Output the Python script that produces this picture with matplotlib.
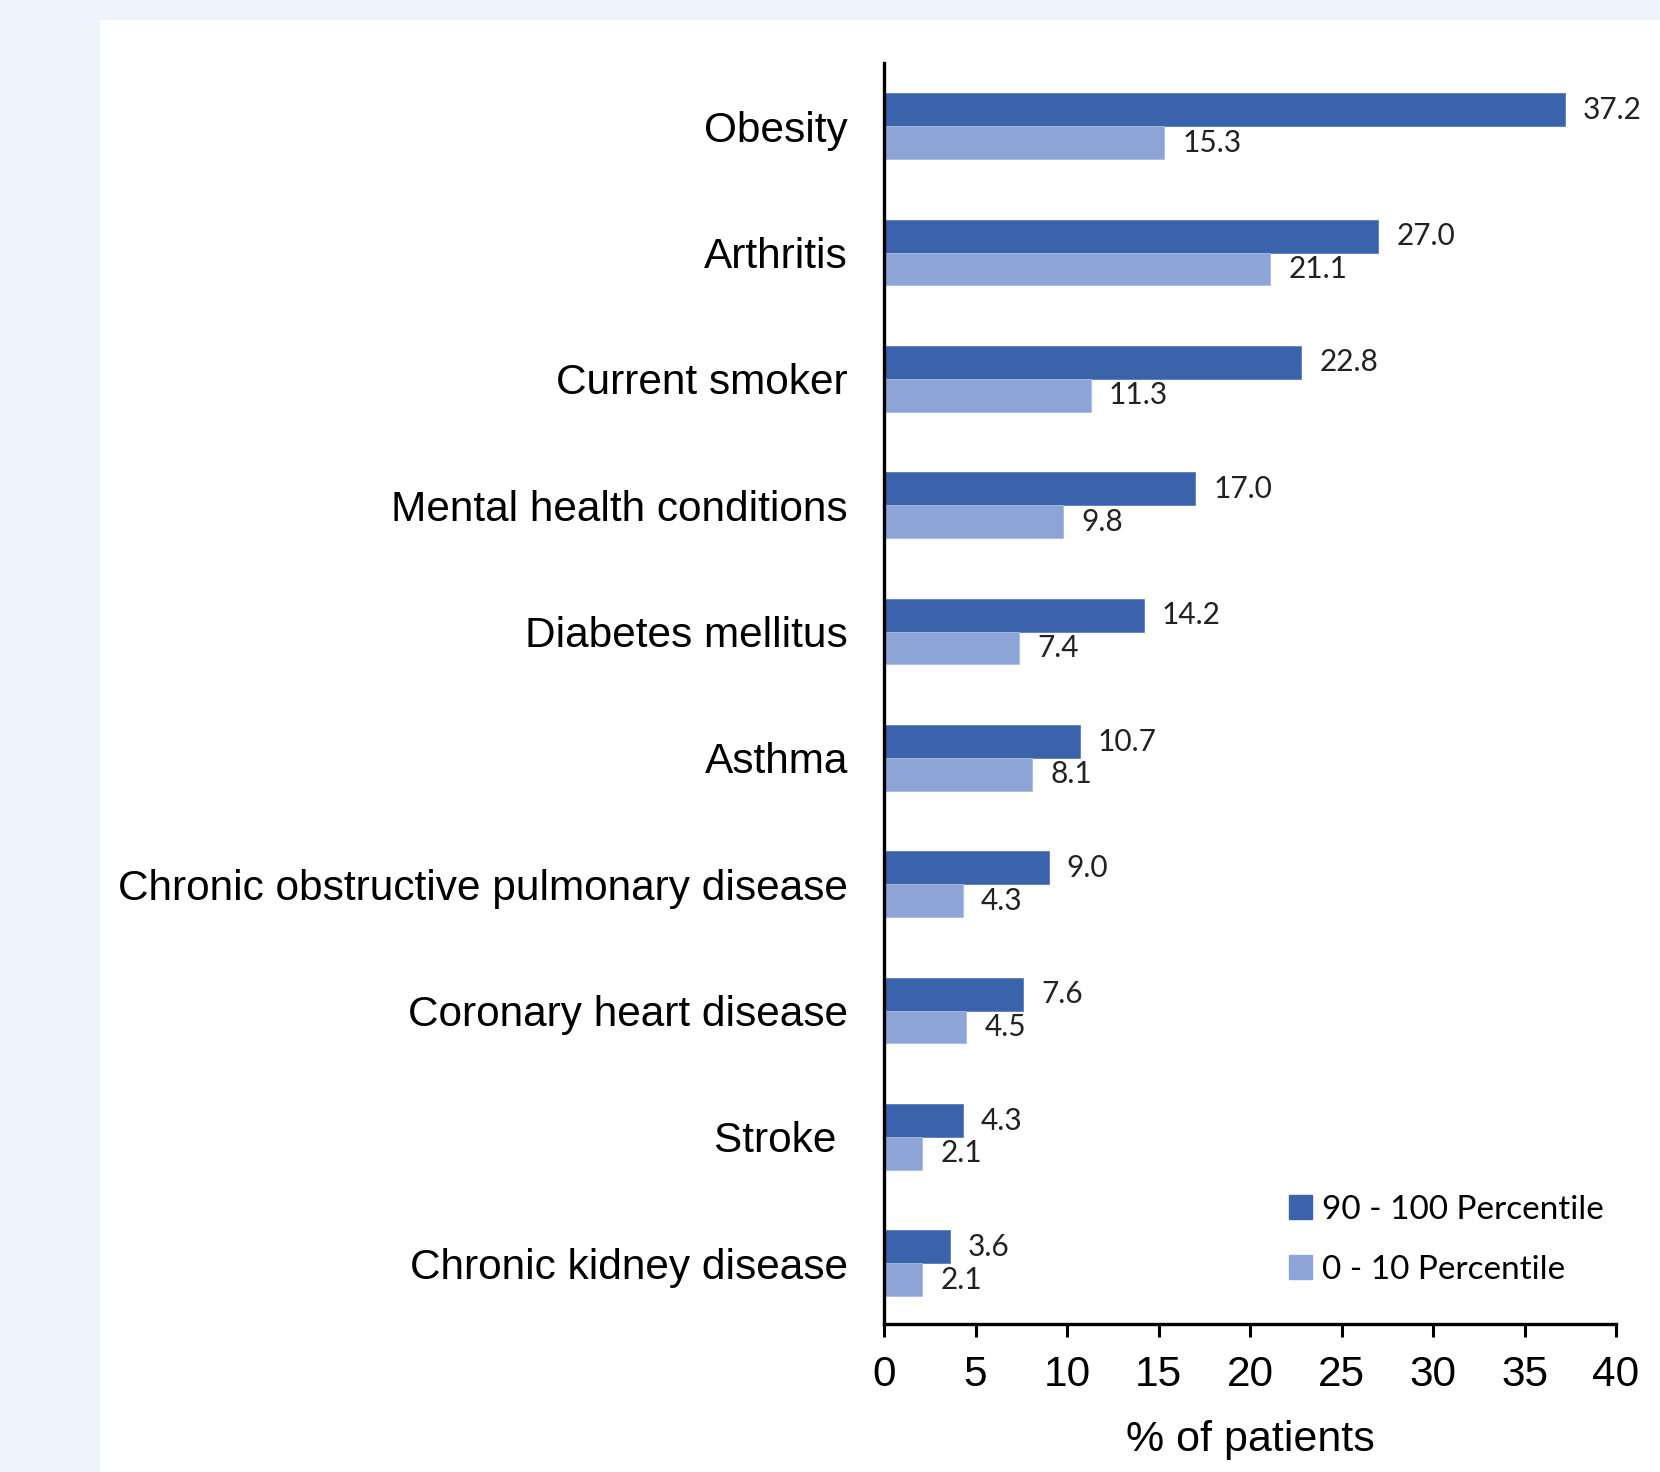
import numpy as np
import matplotlib
matplotlib.use("Agg")
import matplotlib.pyplot as plt
from matplotlib.patches import Rectangle, Patch

# data (top to bottom)
conditions = [
    "Obesity",
    "Arthritis",
    "Current smoker",
    "Mental health conditions",
    "Diabetes mellitus",
    "Asthma",
    "Chronic obstructive pulmonary disease",
    "Coronary heart disease",
    "Stroke ",
    "Chronic kidney disease",
]
top_pct = [37.2, 27.0, 22.8, 17.0, 14.2, 10.7, 9.0, 7.6, 4.3, 3.6]
bottom_pct = [15.3, 21.1, 11.3, 9.8, 7.4, 8.1, 4.3, 4.5, 2.1, 2.1]
series_names = ["90 - 100 Percentile", "0 - 10 Percentile"]
xticks = [0, 5, 10, 15, 20, 25, 30, 35, 40]

dark = "#3b63ab"
light = "#8fa4d6"

fig = plt.figure(figsize=(16.6, 14.72), dpi=100, facecolor="#eff3fb")
fig.patches.append(Rectangle((100 / 1660, 0), 1, 1 - 20 / 1472,
                             transform=fig.transFigure, facecolor="white",
                             edgecolor="none", zorder=-5))

ax = fig.add_axes([884 / 1660, 1 - 1324 / 1472, 732 / 1660, (1324 - 63) / 1472])
ax.set_facecolor("none")
ax.set_zorder(2)

pos = np.arange(len(conditions))
h = 0.26
ax.barh(pos - h / 2, top_pct, height=h, color=dark, edgecolor="#5a7dc0", linewidth=0.6)
ax.barh(pos + h / 2, bottom_pct, height=h, color=light, edgecolor="#a9bbe3", linewidth=0.6)

for p, v in zip(pos, top_pct):
    ax.annotate(f"{v:.1f}", (v, p - h / 2), xytext=(13, 0), textcoords="offset points",
                va="center", ha="left", fontsize=21.5, family="Lato", color="#222222")
for p, v in zip(pos, bottom_pct):
    ax.annotate(f"{v:.1f}", (v, p + h / 2), xytext=(13, 0), textcoords="offset points",
                va="center", ha="left", fontsize=21.5, family="Lato", color="#222222")

ax.set_xlim(0, 40)
ax.set_ylim(len(conditions) - 0.52, -0.5)
ax.set_xticks(xticks)
ax.set_xticklabels([str(t) for t in xticks], fontsize=30.5, family="Liberation Sans")
ax.set_yticks(pos)
ax.set_yticklabels(conditions, fontsize=30.5, family="Liberation Sans")
ax.tick_params(axis="y", length=0, pad=26)
ax.tick_params(axis="x", direction="out", length=9, width=2.2, pad=13)
for s in ["top", "right"]:
    ax.spines[s].set_visible(False)
for s in ["left", "bottom"]:
    ax.spines[s].set_linewidth(2.4)
    ax.spines[s].set_color("black")

ax.set_xlabel("% of patients", fontsize=31, family="Liberation Sans", labelpad=18)

handles = [Patch(facecolor=dark, edgecolor=dark), Patch(facecolor=light, edgecolor=light)]
leg = ax.legend(handles, series_names, loc="upper left",
                bbox_to_anchor=(1272 / 1660, 1 - 1178 / 1472),
                bbox_transform=fig.transFigure, frameon=False,
                handlelength=0.7, handleheight=0.7, handletextpad=0.3,
                labelspacing=0.9, borderpad=0, prop={"family": "Lato", "size": 24})

fig.savefig("out.png", dpi=100, facecolor=fig.get_facecolor())
